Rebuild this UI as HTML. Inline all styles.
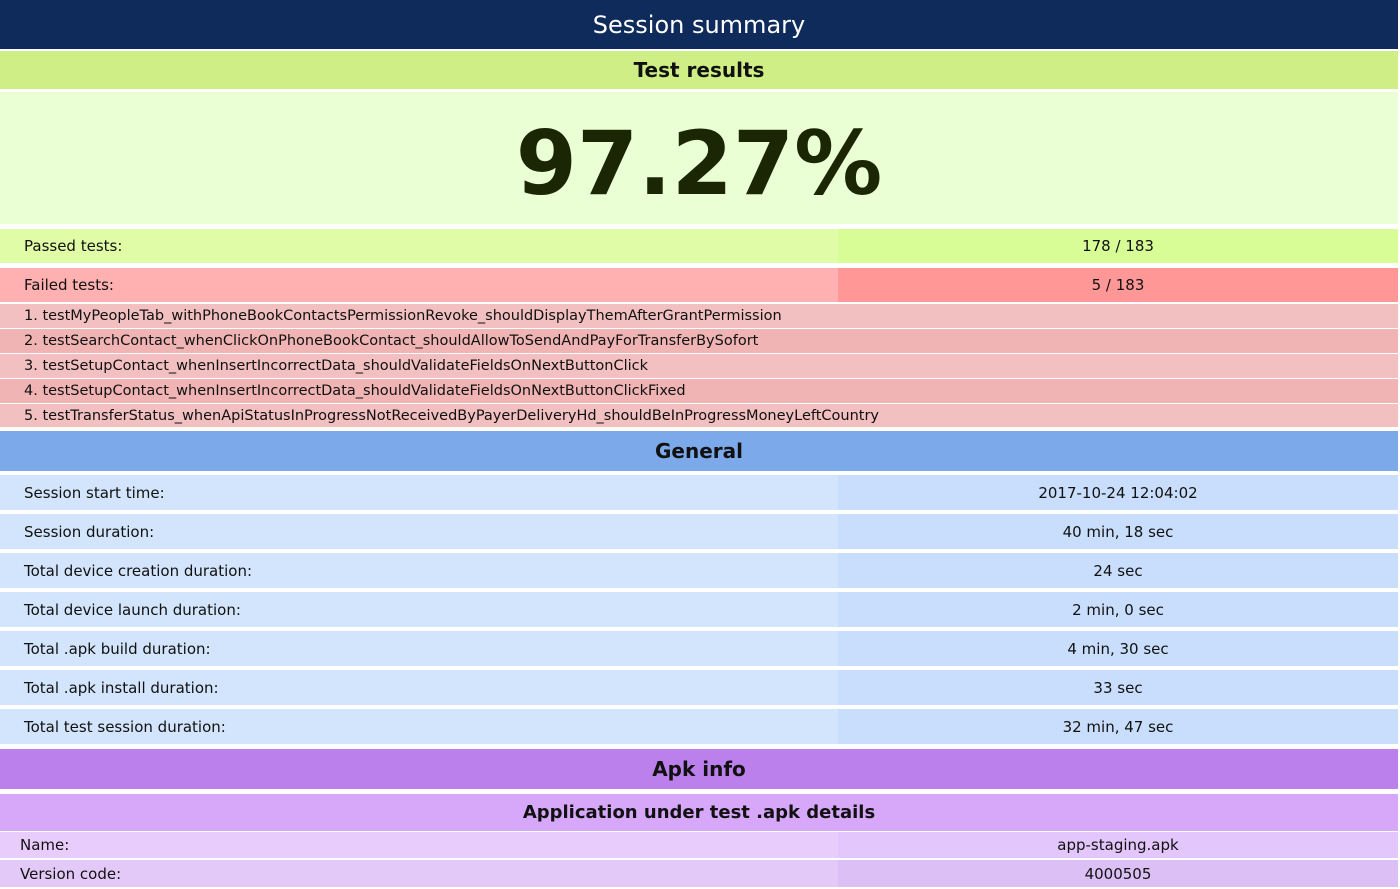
<!DOCTYPE html>
<html><head><meta charset="utf-8"><style>
body{margin:0;width:1400px;height:889px;background:#fff;font-family:"DejaVu Sans","Liberation Sans",sans-serif;color:#111;overflow:hidden;position:relative}
.b{position:absolute;left:0;width:1398px;box-sizing:border-box}
.c{display:flex;align-items:center;justify-content:center}
.l{position:absolute;left:0;top:0;bottom:0;width:838px;display:flex;align-items:center;padding-left:24px;box-sizing:border-box;font-size:15px}
.r{position:absolute;left:838px;right:0;top:0;bottom:0;display:flex;align-items:center;justify-content:center;font-size:15px}
.f{display:flex;align-items:center;padding-left:24px;font-size:14.5px}
.h{font-weight:bold;font-size:20px}
</style></head><body>
<div class="b c" style="top:0;height:49px;background:#0f2b5b;color:#fff;font-size:24px">Session summary</div>
<div class="b c h" style="top:51px;height:38px;background:#cfee86">Test results</div>
<div class="b c" style="top:92px;height:132px;padding-top:10px;background:#eaffd3;font-size:88px;font-weight:bold;color:#1b2604;letter-spacing:0px">97.27%</div>
<div class="b" style="top:229px;height:34px;background:#e1fca7"><div class="l">Passed tests:</div><div class="r" style="background:#d8fd97">178 / 183</div></div>
<div class="b" style="top:268px;height:34px;background:#ffb0b0"><div class="l">Failed tests:</div><div class="r" style="background:#ff9797">5 / 183</div></div>
<div class="b f" style="top:304px;height:24px;background:#f2c0c0">1. testMyPeopleTab_withPhoneBookContactsPermissionRevoke_shouldDisplayThemAfterGrantPermission</div>
<div class="b f" style="top:329px;height:24px;background:#f0b4b4">2. testSearchContact_whenClickOnPhoneBookContact_shouldAllowToSendAndPayForTransferBySofort</div>
<div class="b f" style="top:354px;height:24px;background:#f2c0c0">3. testSetupContact_whenInsertIncorrectData_shouldValidateFieldsOnNextButtonClick</div>
<div class="b f" style="top:379px;height:24px;background:#f0b4b4">4. testSetupContact_whenInsertIncorrectData_shouldValidateFieldsOnNextButtonClickFixed</div>
<div class="b f" style="top:404px;height:23px;background:#f2c0c0">5. testTransferStatus_whenApiStatusInProgressNotReceivedByPayerDeliveryHd_shouldBeInProgressMoneyLeftCountry</div>
<div class="b c h" style="top:431px;height:40px;background:#7ba9ea">General</div>
<div class="b" style="top:475px;height:35px;background:#d3e5fc"><div class="l">Session start time:</div><div class="r" style="background:#c9ddfc">2017-10-24 12:04:02</div></div>
<div class="b" style="top:514px;height:35px;background:#d3e5fc"><div class="l">Session duration:</div><div class="r" style="background:#c9ddfc">40 min, 18 sec</div></div>
<div class="b" style="top:553px;height:35px;background:#d3e5fc"><div class="l">Total device creation duration:</div><div class="r" style="background:#c9ddfc">24 sec</div></div>
<div class="b" style="top:592px;height:35px;background:#d3e5fc"><div class="l">Total device launch duration:</div><div class="r" style="background:#c9ddfc">2 min, 0 sec</div></div>
<div class="b" style="top:631px;height:35px;background:#d3e5fc"><div class="l">Total .apk build duration:</div><div class="r" style="background:#c9ddfc">4 min, 30 sec</div></div>
<div class="b" style="top:670px;height:35px;background:#d3e5fc"><div class="l">Total .apk install duration:</div><div class="r" style="background:#c9ddfc">33 sec</div></div>
<div class="b" style="top:709px;height:35px;background:#d3e5fc"><div class="l">Total test session duration:</div><div class="r" style="background:#c9ddfc">32 min, 47 sec</div></div>
<div class="b c h" style="top:749px;height:40px;background:#bc80ec">Apk info</div>
<div class="b c" style="top:794px;height:37px;background:#d7a8fa;font-weight:bold;font-size:18px">Application under test .apk details</div>
<div class="b" style="top:832px;height:26px;background:#e8cdfc"><div class="l" style="padding-left:20px">Name:</div><div class="r" style="background:#e3c6fb">app-staging.apk</div></div>
<div class="b" style="top:860px;height:27px;background:#e3c9f8"><div class="l" style="padding-left:20px">Version code:</div><div class="r" style="background:#dcc0f5">4000505</div></div>
</body></html>
